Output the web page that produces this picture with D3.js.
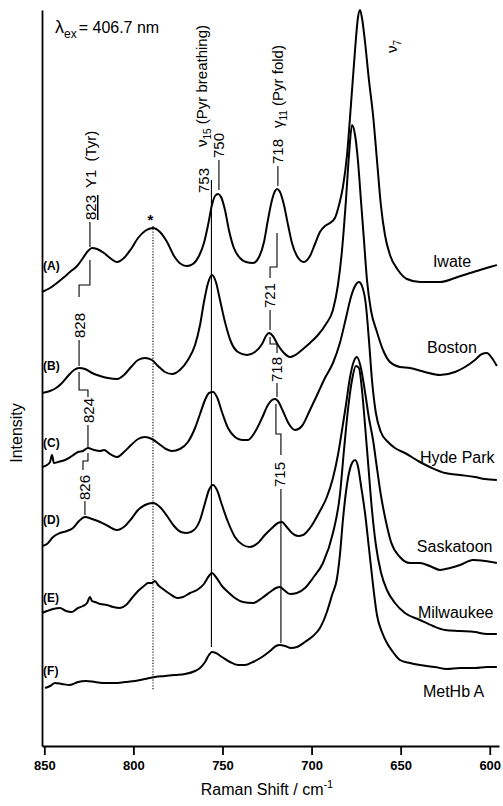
<!DOCTYPE html>
<html>
<head>
<meta charset="utf-8">
<script src="https://cdn.jsdelivr.net/npm/d3@7"></script>
<style>
  body { margin: 0; background: #fff; }
  svg { display: block; font-family: "Liberation Sans", Arial, Helvetica, sans-serif; }
</style>
</head>
<body>
<svg width="503" height="806"></svg>
<script>
// Raman spectra, lambda_ex = 406.7 nm
// each point: [Raman shift (cm-1), intensity incl. stacking offset]

const iwate = [
  [851.3,454],[846.8,458],[842.9,463],[839.5,468],[835.6,474],[831.6,480],[828.3,488],[825.5,495],[823.2,498],[820.4,497],
  [816.5,493],[813.1,488],[809.2,484],[805.3,488],[801.3,497],[797.4,508],[793.5,515],[789.0,518],[785.1,514],[781.1,504],
  [777.2,490],[773.3,482],[769.9,480],[766.6,482],[763.2,490],[760.4,503],[758.1,521],[755.9,541],[754.2,550],[752.5,552],
  [750.8,549],[748.6,536],[746.4,516],[743.6,498],[740.2,488],[736.8,484],[732.9,483],[729.5,489],[726.7,504],[724.5,526],
  [722.2,546],[720.5,555],[719.4,557],[717.7,554],[715.5,541],[713.2,521],[711.0,503],[708.2,490],[704.3,484],[700.9,490],
  [698.1,502],[695.3,514],[692.5,520],[689.7,523],[686.9,528],[684.6,541],[682.4,559],[680.1,591],[677.9,641],[675.6,696],
  [674.0,728],[672.8,736],[671.7,728],[670.0,704],[667.8,666],[665.5,631],[663.3,586],[661.1,541],[658.8,511],[656.0,491],
  [651.5,476],[646.5,467],[639.2,464],[627.9,464],[619.5,468],[611.1,473],[605.5,476],[599.9,479],[596.0,481]
];

const boston = [
  [851.3,353],[846.8,355],[843.4,358],[840.1,363],[836.7,370],[833.3,376],[830.5,378],[827.2,377],[823.2,373],[818.7,370],
  [814.3,368],[809.2,367],[805.3,371],[801.3,379],[797.4,386],[793.5,388],[789.6,386],[786.2,380],[782.3,374],[778.3,372],
  [773.9,376],[769.4,386],[765.4,401],[762.6,421],[760.4,444],[758.1,463],[755.9,471],[753.7,464],[751.4,446],[748.6,424],
  [745.2,404],[741.3,394],[736.3,391],[731.8,394],[727.8,402],[725.6,410],[723.9,413],[721.7,410],[718.9,401],[715.5,393],
  [712.1,389],[708.2,392],[704.8,397],[700.9,403],[696.4,411],[691.9,422],[688.0,436],[685.2,461],[682.9,496],[680.7,546],
  [679.0,591],[677.3,621],[675.6,611],[674.0,586],[672.3,546],[670.6,506],[668.9,466],[666.7,436],[663.3,414],[659.9,396],
  [656.0,384],[650.4,379],[644.8,378],[636.4,374],[627.9,371],[619.5,374],[613.9,379],[608.3,386],[604.4,392],[601.6,393],
  [598.8,388],[596.0,380]
];

const hydePark = [
  [851.3,279],[848.5,281],[846.8,284],[845.7,291],[844.6,283],[842.3,284],[838.4,286],[834.5,290],[831.1,294],[828.3,295],
  [825.5,298],[822.1,296],[818.7,295],[816.5,296],[813.1,292],[809.2,289],[805.3,294],[801.3,301],[797.4,307],[793.5,309],
  [789.6,307],[785.6,302],[781.7,297],[778.3,295],[773.9,297],[769.4,304],[765.4,318],[762.6,332],[759.8,346],[757.6,353],
  [755.3,354],[753.1,349],[750.3,334],[746.9,318],[743.0,309],[739.1,306],[735.7,306],[731.8,314],[727.8,328],[724.5,341],
  [722.2,346],[720.5,347],[718.9,345],[716.1,335],[712.7,322],[709.3,316],[705.4,320],[700.9,336],[696.4,353],[692.5,368],
  [688.0,383],[684.1,403],[680.7,428],[677.9,449],[675.6,460],[673.4,464],[671.7,460],[669.5,441],[667.8,406],[666.1,366],
  [663.9,333],[661.1,314],[657.1,304],[653.2,298],[647.6,293],[639.2,284],[632.4,278],[625.1,273],[616.7,271],[608.3,269],
  [602.7,267],[596.0,266]
];

const saskatoon = [
  [851.3,200],[848.5,202],[845.1,209],[841.2,213],[837.3,215],[833.9,218],[830.5,225],[827.2,229],[823.2,227],[818.7,224],
  [814.3,220],[809.2,216],[804.7,220],[800.8,228],[797.4,236],[793.5,241],[789.0,243],[785.1,239],[781.1,230],[777.2,220],
  [773.3,214],[769.9,213],[766.0,216],[762.6,226],[759.8,243],[757.6,256],[755.3,261],[753.1,256],[750.3,241],[746.9,224],
  [743.0,209],[738.5,201],[734.6,199],[730.1,203],[726.2,211],[722.2,218],[718.9,223],[716.6,224],[714.4,220],[711.0,213],
  [707.6,210],[704.8,211],[700.9,218],[695.3,235],[691.4,249],[688.0,268],[685.2,291],[682.9,316],[680.7,341],[678.5,368],
  [676.2,385],[674.5,389],[672.3,378],[670.0,354],[667.8,328],[665.5,306],[663.3,278],[661.1,251],[658.2,224],[655.4,204],
  [650.4,189],[644.8,183],[639.2,183],[633.6,180],[627.9,176],[622.3,178],[616.7,181],[609.4,186],[602.7,185],[596.0,183]
];

const milwaukee = [
  [851.3,133],[848.5,135],[845.1,137],[841.2,138],[837.8,135],[834.5,134],[831.1,138],[828.3,140],[826.0,143],[824.4,149],
  [823.2,145],[821.5,144],[818.7,142],[814.8,141],[811.4,139],[807.5,138],[804.1,141],[800.8,148],[797.4,155],[794.1,160],
  [791.8,163],[789.6,163],[787.9,165],[786.2,161],[783.4,157],[779.5,152],[775.5,148],[772.2,149],[768.2,153],[764.3,156],
  [760.4,162],[757.6,170],[755.9,173],[753.7,169],[750.3,160],[746.9,154],[743.0,148],[738.5,144],[732.9,143],[727.8,148],
  [723.3,154],[720.0,158],[717.7,159],[715.5,156],[712.1,152],[708.2,153],[703.7,158],[699.2,168],[693.6,183],[688.0,213],
  [684.1,251],[681.8,296],[679.6,336],[677.3,366],[675.1,380],[673.4,378],[671.7,356],[670.0,321],[668.4,286],[666.1,236],
  [663.9,201],[661.1,174],[657.7,156],[653.2,143],[647.6,133],[639.2,126],[631.9,120],[625.1,116],[616.7,115],[608.3,114],
  [601.6,112],[596.0,112]
];

const metHbA = [
  [849.6,58],[846.8,60],[844.0,63],[840.1,62],[835.6,61],[831.1,64],[826.6,65],[821.5,64],[815.9,63],[810.3,63],
  [804.7,64],[799.1,65],[793.5,67],[787.9,69],[782.3,70],[776.7,71],[771.0,72],[765.4,75],[762.6,78],[759.8,84],
  [757.6,91],[755.9,94],[753.7,93],[750.3,89],[745.8,84],[741.3,81],[737.4,81],[732.9,84],[727.8,89],[723.3,95],
  [720.0,100],[717.7,101],[714.9,100],[711.6,98],[708.2,99],[703.7,104],[699.2,110],[695.3,118],[691.4,134],[688.5,151],
  [685.7,168],[684.1,191],[682.4,226],[680.7,254],[679.0,273],[677.3,283],[675.6,286],[674.0,280],[672.3,261],[670.0,233],
  [667.8,198],[665.5,161],[663.3,131],[660.5,114],[657.7,103],[654.3,94],[650.4,86],[644.8,83],[639.2,81],[630.8,79],
  [624.0,77],[616.7,78],[608.3,78],[601.6,79],[596.0,79]
];

const spectra = [iwate, boston, hydePark, saskatoon, milwaukee, metHbA];
const sampleNames = ["Iwate", "Boston", "Hyde Park", "Saskatoon", "Milwaukee", "MetHb A"];
const traceTags = ["(A)", "(B)", "(C)", "(D)", "(E)", "(F)"];
const shiftTicks = [850, 800, 750, 700, 650, 600];

// annotation anchors, in [shift, intensity]
const namePos = [[631.9,479],[635.2,393],[639.2,283],[640.9,194],[640.3,128],[637.5,49]];
const tagPos = [[850.7,476],[850.7,376],[850.7,299],[850.7,222],[850.7,144],[850.7,71]];

const leaders = [
  [[824.4,499],[824.4,524]],
  [[824.4,486],[824.4,461],[830.5,461],[830.5,449]],
  [[830.5,406],[830.5,380]],
  [[830.5,374],[830.5,356],[825.5,356],[825.5,349]],
  [[825.5,321],[825.5,299]],
  [[825.5,293],[825.5,285],[828.3,285],[828.3,276]],
  [[827.2,245],[827.2,231]],
  [[756.2,566],[756.2,99]],
  [[752.0,586],[752.0,556]],
  [[718.9,580],[718.9,560]],
  [[719.4,513],[719.4,479],[723.3,479],[723.3,468]],
  [[723.3,436],[723.3,416]],
  [[723.3,409],[723.3,402],[719.4,402],[719.4,393]],
  [[719.4,363],[719.4,349]],
  [[720.0,342],[720.0,312],[717.2,312],[717.2,291]],
  [[717.2,257],[717.2,103]]
];
const solventBand = [[789.0,520],[789.0,56]];

// vertical band labels: anchor, pieces
const bandLabels = [
  [[821.0,526], [{t:"823", u:true}, {t:"Y1", dx:7}, {t:"(Tyr)", dx:8}]],
  [[827.2,408], [{t:"828"}]],
  [[822.1,323], [{t:"824"}]],
  [[824.4,246], [{t:"826"}]],
  [[757.6,553], [{t:"753"}]],
  [[749.2,588], [{t:"750"}]],
  [[758.7,599], [{t:"ν"}, {t:"15", sub:true}, {t:" (Pyr breathing)"}]],
  [[716.1,582], [{t:"718"}]],
  [[716.1,618], [{t:"γ"}, {t:"11", sub:true}, {t:" (Pyr fold)"}]],
  [[720.5,438], [{t:"721"}]],
  [[716.6,364], [{t:"718"}]],
  [[714.9,259], [{t:"715"}]],
  [[652.1,693], [{t:"ν"}, {t:"7", sub:true}]]
];

const svg = d3.select("svg");

const x = d3.scaleLinear().domain([851.3, 594.8]).range([42, 499]);
const y = d3.scaleLinear().domain([0, 736]).range([746, 10]);

// axes
const xAxis = svg.append("g")
  .attr("transform", `translate(0,${y(0)})`)
  .call(d3.axisBottom(x).tickValues(shiftTicks).tickSize(9).tickSizeOuter(0).tickPadding(6));
xAxis.select(".domain").attr("stroke-width", 1.8);
xAxis.selectAll(".tick line").attr("stroke-width", 1.8);
xAxis.selectAll(".tick text")
  .style("font-family", "Liberation Sans, Arial, sans-serif")
  .style("font-size", "13px")
  .style("font-weight", "bold")
  .attr("fill", "#000");

const yAxis = svg.append("g")
  .attr("transform", `translate(${x.range()[0]},0)`)
  .call(d3.axisLeft(y).tickValues([]).tickSizeOuter(0));
yAxis.select(".domain").attr("stroke-width", 1.8);

svg.append("text")
  .attr("x", 267).attr("y", 795)
  .attr("text-anchor", "middle")
  .style("font-size", "16px")
  .text("Raman Shift / cm")
  .append("tspan").attr("dy", -7).style("font-size", "11px").text("-1");

svg.append("text")
  .attr("transform", "translate(22,433) rotate(-90)")
  .attr("text-anchor", "middle")
  .style("font-size", "16px")
  .text("Intensity");

// spectra
const line = d3.line()
  .x(d => x(d[0]))
  .y(d => y(d[1]))
  .curve(d3.curveMonotoneX);

svg.append("g").selectAll("path")
  .data(spectra)
  .join("path")
  .attr("d", line)
  .attr("fill", "none")
  .attr("stroke", "#000")
  .attr("stroke-width", 2)
  .attr("stroke-linejoin", "round");

// marker lines
const straight = d3.line().x(d => x(d[0])).y(d => y(d[1]));
svg.append("g").selectAll("path")
  .data(leaders)
  .join("path")
  .attr("d", straight)
  .attr("fill", "none")
  .attr("stroke", "#000")
  .attr("stroke-width", 1.1);

svg.append("path")
  .attr("d", straight(solventBand))
  .attr("fill", "none")
  .attr("stroke", "#000")
  .attr("stroke-width", 1.1)
  .attr("stroke-dasharray", "1.2,1.6");

svg.append("text")
  .attr("x", x(790.5)).attr("y", y(521))
  .attr("text-anchor", "middle")
  .style("font-size", "15px")
  .style("font-weight", "bold")
  .text("*");

// band labels (rotated)
bandLabels.forEach(([pos, pieces]) => {
  const t = svg.append("text")
    .attr("transform", `translate(${x(pos[0])},${y(pos[1])}) rotate(-90)`)
    .style("font-size", "15px");
  let shifted = 0;
  pieces.forEach(p => {
    const s = t.append("tspan").text(p.t);
    if (p.sub) {
      s.style("font-size", "10px").attr("dy", 4 - shifted);
      shifted = 4;
    } else if (shifted) {
      s.attr("dy", -shifted);
      shifted = 0;
    }
    if (p.dx) s.attr("dx", p.dx);
    if (p.u) s.style("text-decoration", "underline");
  });
});

// trace tags and sample names
svg.append("g").selectAll("text")
  .data(traceTags)
  .join("text")
  .attr("x", (d, i) => x(tagPos[i][0]))
  .attr("y", (d, i) => y(tagPos[i][1]))
  .style("font-size", "12px")
  .style("font-weight", "bold")
  .text(d => d);

svg.append("g").selectAll("text")
  .data(sampleNames)
  .join("text")
  .attr("x", (d, i) => x(namePos[i][0]))
  .attr("y", (d, i) => y(namePos[i][1]))
  .style("font-size", "16px")
  .text(d => d);

// excitation wavelength
const lam = svg.append("text")
  .attr("x", x(844.0)).attr("y", y(713))
  .style("font-size", "16px");
lam.append("tspan").style("font-size", "18px").text("λ");
lam.append("tspan").attr("dy", 5).style("font-size", "12px").text("ex");
lam.append("tspan").attr("dy", -5).attr("dx", 2).text("= 406.7 nm");
</script>
</body>
</html>
